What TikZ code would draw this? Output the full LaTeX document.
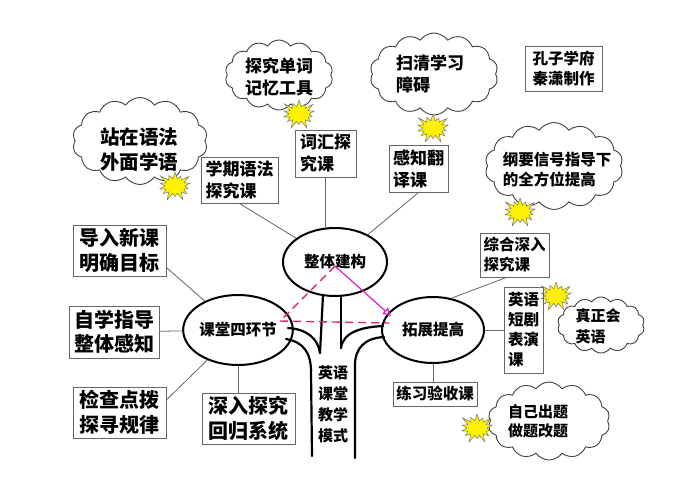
\documentclass[tikz,border=0pt]{standalone}
\usepackage{fontspec}
\setmainfont{Noto Sans CJK SC}
\usepackage{tikz}
\usetikzlibrary{shapes.geometric,shapes.symbols,arrows.meta}
\definecolor{dashred}{RGB}{230,40,90}
\definecolor{arrowpink}{RGB}{225,30,200}
\newcommand{\cjksize}[2]{\fontsize{#1}{#2}\selectfont}

\begin{document}
\begin{tikzpicture}[x=1pt,y=-1pt,
  box/.style={draw=black!60, line width=1pt, align=left, inner sep=2pt},
  hub/.style={ellipse, draw, line width=2pt, inner sep=0pt, font=\bfseries\cjksize{15.5}{18}},
  bubble/.style={cloud, cloud puffs=14, cloud puff arc=110, cloud ignores aspect, draw=black!75, line width=0.9pt, fill=white, inner sep=0pt},
  note/.style={align=left, inner sep=0pt},
  burst/.style={starburst, starburst points=14, starburst point height=9pt, fill=yellow, draw=black!55, line width=0.5pt, minimum width=38pt, minimum height=33pt, inner sep=0pt},
  link/.style={draw=black!60, line width=0.8pt},
  trunk/.style={line width=2.2pt, line cap=round}]
\fill [white] (0,0) rectangle (690,496);
\useasboundingbox (0,0) rectangle (690,496);

\node [bubble, minimum width=135pt, minimum height=87pt] (c1) at (140,141) {};
\node [note, font=\bfseries\cjksize{19.5}{25}] (t1) at (139,150) {站在语法\\外面学语};
\node [bubble, minimum width=108pt, minimum height=70pt] (c2) at (279,75) {};
\node [note, font=\bfseries\cjksize{17}{22}] (t2) at (279,77) {探究单词\\记忆工具};
\node [bubble, minimum width=128pt, minimum height=82pt] (c3) at (434,74) {};
\node [note, font=\bfseries\cjksize{17}{22}] (t3) at (430,74) {扫清学习\\障碍};
\node [bubble, minimum width=138pt, minimum height=87pt] (c4) at (554,166) {};
\node [note, font=\bfseries\cjksize{15.5}{20}] (t4) at (557,170) {纲要信号指导下\\的全方位提高};
\node [bubble, minimum width=87pt, minimum height=56pt] (c5) at (601,325) {};
\node [note, font=\bfseries\cjksize{15}{21}] (t5) at (598,326) {真正会\\英语};
\node [bubble, minimum width=122pt, minimum height=78pt] (c6) at (549,421) {};
\node [note, font=\bfseries\cjksize{15}{19}] (t6) at (538,421) {自己出题\\做题改题};

\node [burst] (s1) at (175,186) {};
\node [burst] (s2) at (299,114) {};
\node [burst] (s3) at (433,128) {};
\node [burst] (s4) at (520,212) {};
\node [burst] (s5) at (556,296) {};
\node [burst] (s6) at (477,428) {};

\node [box, minimum width=77pt, minimum height=46pt, font=\bfseries\cjksize{17}{22}] (b1) at (239.5,180) {学期语法\\探究课};
\node [box, minimum width=61pt, minimum height=47pt, font=\bfseries\cjksize{17}{22}] (b2) at (325.5,153.5) {词汇探\\究课};
\node [box, minimum width=59pt, minimum height=47pt, font=\bfseries\cjksize{17}{22}] (b3) at (418.5,168.5) {感知翻\\译课};
\node [box, minimum width=77pt, minimum height=45pt, font=\bfseries\cjksize{15.5}{20}] (b4) at (563.5,68.5) {孔子学府\\秦潇制作};
\node [box, minimum width=69pt, minimum height=44pt, font=\bfseries\cjksize{15.5}{20}] (b5) at (514.5,255) {综合深入\\探究课};
\node [box, minimum width=39pt, minimum height=86pt, font=\bfseries\cjksize{15.5}{20}] (b6) at (523.5,330) {英语\\短剧\\表演\\课};
\node [box, minimum width=84pt, minimum height=24pt, font=\bfseries\cjksize{15.5}{20}] (b7) at (435,394) {练习验收课};
\node [box, minimum width=93pt, minimum height=51pt, font=\bfseries\cjksize{20}{25}] (b8) at (119.5,250.5) {导入新课\\明确目标};
\node [box, minimum width=90pt, minimum height=52pt, font=\bfseries\cjksize{20}{24}] (b9) at (114,332) {自学指导\\整体感知};
\node [box, minimum width=93pt, minimum height=51pt, font=\bfseries\cjksize{20}{25}] (b10) at (119.5,412.5) {检查点拨\\探寻规律};
\node [box, minimum width=93pt, minimum height=51pt, font=\bfseries\cjksize{20}{25}] (b11) at (248.5,418.5) {深入探究\\回归系统};

\node [hub, minimum width=104pt, minimum height=68pt] (e1) at (335,262) {整体建构};
\node [hub, minimum width=100pt, minimum height=70pt] (e2) at (238,330) {课堂四环节};
\node [hub, minimum width=102pt, minimum height=66pt] (e3) at (433,330) {拓展提高};

\draw [link] (b1.south) -- (e1);
\draw [link] (b2.south) -- (b2.south |- e1.north);
\draw [link] (b3.south) -- (e1);
\draw [link] (b8.-20) -- (e2);
\draw [link] (b9) -- (e2);
\draw [link] (b10.15) -- (e2);
\draw [link] (e2.south) -- (e2.south |- b11.north);
\draw [link] (b5.-110) -- (e3.60);
\draw [link] (b6) -- (e3);
\draw [link] (e3.south) -- (e3.south |- b7.north);

\draw [trunk] (323,295) -- (320,353);
\draw [trunk] (341,296) -- (341,348);
\draw [trunk] (288,328) .. controls (306,329) and (318,338) .. (320,353);
\draw [trunk] (341,348) .. controls (343,332) and (362,327) .. (383,326);
\draw [trunk] (286,339) .. controls (303,342) and (311,352) .. (311,372) -- (312,456);
\draw [trunk] (384,337) .. controls (365,338) and (355,348) .. (355,365) -- (355,458);
\node [note, font=\bfseries\cjksize{15}{21}] (mode) at (333,404) {英语\\课堂\\教学\\模式};

\coordinate (apex) at (335,266);
\coordinate (lft) at (280,321);
\coordinate (rgt) at (389,323);
\coordinate (tip) at (391,316);
\draw [dashred, line width=1.4pt, dash pattern=on 8pt off 5pt] (apex) -- (lft) -- (rgt);
\draw [arrowpink, line width=1.2pt, -{Triangle[open, length=8pt, width=8pt]}] (apex) -- (tip);
\end{tikzpicture}
\end{document}
